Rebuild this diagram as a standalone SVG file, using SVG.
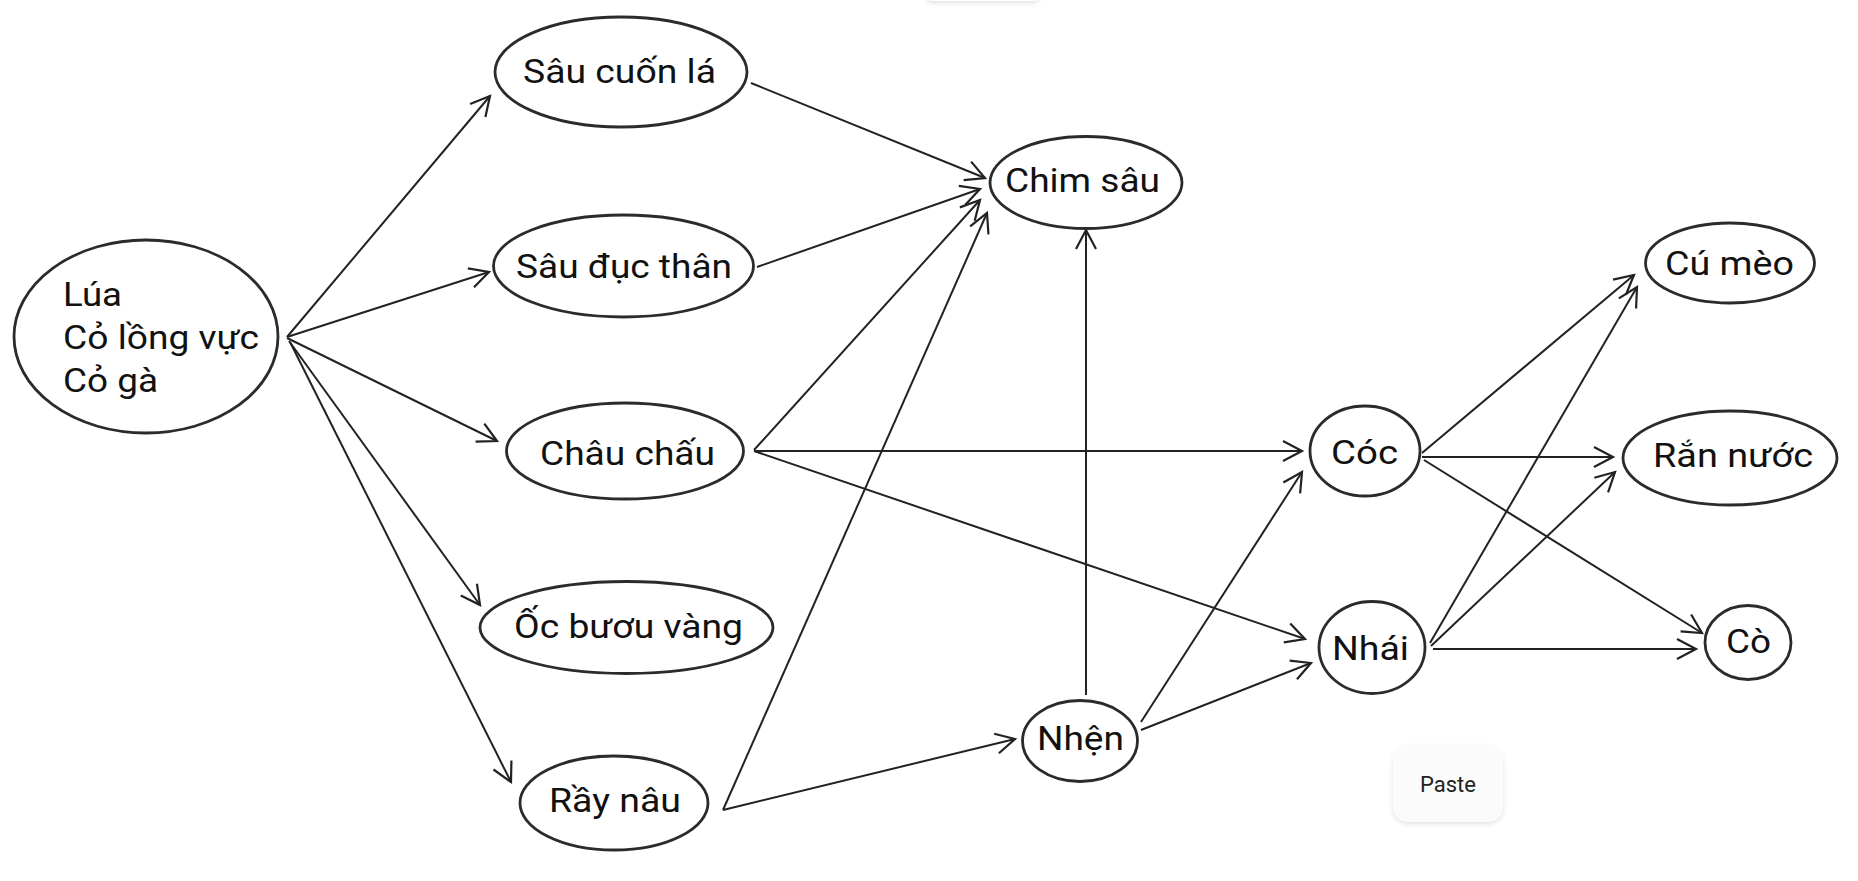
<svg xmlns="http://www.w3.org/2000/svg" width="1858" height="881" viewBox="0 0 1858 881">
<style>
.node ellipse{fill:#fff;stroke:#2b2b2b;stroke-width:2.8}
.node text{font-family:Roboto,"Noto Sans","Liberation Sans",sans-serif;font-size:34px;fill:#111}
#edges line{stroke:#222;stroke-width:2;fill:none;marker-end:url(#arr)}
.btn text{font-family:Roboto,"Liberation Sans",sans-serif;font-size:22px;fill:#222}
</style>
<defs>
<marker id="arr" markerUnits="userSpaceOnUse" viewBox="-22 -12 24 24" refX="0" refY="0" markerWidth="24" markerHeight="24" orient="auto" overflow="visible">
<path d="M-19,-10 L0,0 L-19,10" fill="none" stroke="#222" stroke-width="2.2" stroke-linejoin="miter"/>
</marker>
<filter id="sh" x="-20%" y="-20%" width="140%" height="150%">
<feDropShadow dx="0" dy="2" stdDeviation="2.5" flood-color="#000" flood-opacity="0.12"/>
</filter>
</defs>
<rect width="1858" height="881" fill="#fff"/>
<rect x="925" y="-30" width="115" height="31" rx="8" fill="#fff" filter="url(#sh)"/>
<g id="edges">
<line x1="287" y1="337" x2="490" y2="96"/>
<line x1="287" y1="337" x2="489" y2="272"/>
<line x1="287" y1="338" x2="497" y2="441"/>
<line x1="289" y1="341" x2="480" y2="605"/>
<line x1="290" y1="342" x2="511" y2="782"/>
<line x1="751" y1="83" x2="985" y2="178"/>
<line x1="757" y1="267" x2="980" y2="189"/>
<line x1="754" y1="450" x2="980" y2="200"/>
<line x1="723" y1="810" x2="987" y2="213"/>
<line x1="754" y1="451" x2="1302" y2="451"/>
<line x1="754" y1="451" x2="1305" y2="639"/>
<line x1="1086" y1="695" x2="1086" y2="230"/>
<line x1="723" y1="810" x2="1015" y2="739"/>
<line x1="1141" y1="722" x2="1302" y2="472"/>
<line x1="1141" y1="730" x2="1311" y2="663"/>
<line x1="1422" y1="453" x2="1634" y2="275"/>
<line x1="1422" y1="457" x2="1613" y2="457"/>
<line x1="1424" y1="460" x2="1702" y2="633"/>
<line x1="1430" y1="643" x2="1637" y2="287"/>
<line x1="1431" y1="646" x2="1615" y2="472"/>
<line x1="1433" y1="649" x2="1696" y2="649"/>
</g>
<g id="n-lua" class="node">
<ellipse cx="146" cy="336.5" rx="132" ry="96.5"/>
<text x="63" y="306" textLength="59" lengthAdjust="spacingAndGlyphs">Lúa</text>
<text x="63" y="349" textLength="196" lengthAdjust="spacingAndGlyphs">Cỏ lồng vực</text>
<text x="63" y="392" textLength="95" lengthAdjust="spacingAndGlyphs">Cỏ gà</text>
</g>
<g id="n-saucuonla" class="node">
<ellipse cx="621" cy="72" rx="126" ry="55"/>
<text x="523" y="83" textLength="193" lengthAdjust="spacingAndGlyphs">Sâu cuốn lá</text>
</g>
<g id="n-saudecthan" class="node">
<ellipse cx="623.5" cy="266" rx="130" ry="51"/>
<text x="516" y="278" textLength="216" lengthAdjust="spacingAndGlyphs">Sâu đục thân</text>
</g>
<g id="n-chauchau" class="node">
<ellipse cx="625" cy="451" rx="118.5" ry="48"/>
<text x="540" y="465" textLength="175" lengthAdjust="spacingAndGlyphs">Châu chấu</text>
</g>
<g id="n-ocbuouvang" class="node">
<ellipse cx="626.5" cy="627.5" rx="146.5" ry="46"/>
<text x="514" y="638" textLength="229" lengthAdjust="spacingAndGlyphs">Ốc bươu vàng</text>
</g>
<g id="n-raynau" class="node">
<ellipse cx="614" cy="803" rx="94" ry="47"/>
<text x="549" y="812" textLength="132" lengthAdjust="spacingAndGlyphs">Rầy nâu</text>
</g>
<g id="n-chimsau" class="node">
<ellipse cx="1086" cy="182.5" rx="96" ry="46"/>
<text x="1005" y="191.5" textLength="155" lengthAdjust="spacingAndGlyphs">Chim sâu</text>
</g>
<g id="n-nhen" class="node">
<ellipse cx="1080" cy="741" rx="57.5" ry="40.5"/>
<text x="1037" y="750" textLength="87" lengthAdjust="spacingAndGlyphs">Nhện</text>
</g>
<g id="n-coc" class="node">
<ellipse cx="1365" cy="451" rx="55" ry="45"/>
<text x="1331" y="464" textLength="67" lengthAdjust="spacingAndGlyphs">Cóc</text>
</g>
<g id="n-nhai" class="node">
<ellipse cx="1372" cy="647.5" rx="53" ry="46"/>
<text x="1332" y="660" textLength="77" lengthAdjust="spacingAndGlyphs">Nhái</text>
</g>
<g id="n-cumeo" class="node">
<ellipse cx="1730" cy="263" rx="84.5" ry="40"/>
<text x="1665" y="275" textLength="129" lengthAdjust="spacingAndGlyphs">Cú mèo</text>
</g>
<g id="n-rannuoc" class="node">
<ellipse cx="1730" cy="458" rx="107" ry="47"/>
<text x="1653" y="467" textLength="160" lengthAdjust="spacingAndGlyphs">Rắn nước</text>
</g>
<g id="n-co" class="node">
<ellipse cx="1748" cy="642.5" rx="43" ry="37"/>
<text x="1726" y="653" textLength="45" lengthAdjust="spacingAndGlyphs">Cò</text>
</g>
<g id="paste" class="btn">
<rect x="1393" y="745" width="110" height="77" rx="16" fill="#fbfbfb" filter="url(#sh)"/>
<text x="1448" y="792" text-anchor="middle">Paste</text>
</g>
</svg>
